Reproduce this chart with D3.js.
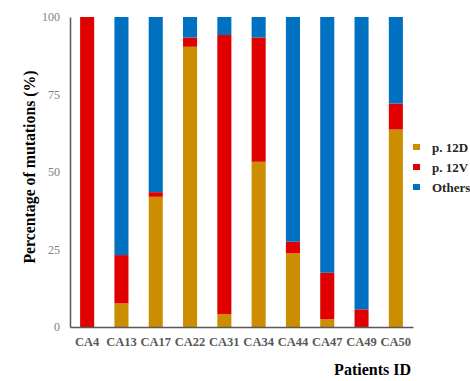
<!DOCTYPE html>
<html>
<head>
<meta charset="utf-8">
<script src="https://cdn.jsdelivr.net/npm/d3@7"></script>
<style>
	body { margin: 0; background: #fff; }
	svg { display: block; }
	text { font-family: "Liberation Serif", "Times New Roman", serif; }
</style>
</head>
<body>
<svg id="chart" width="470" height="381"></svg>
<script>
// stacked percentages per patient
var patients = ['CA4', 'CA13', 'CA17', 'CA22', 'CA31', 'CA34', 'CA44', 'CA47', 'CA49', 'CA50'];
var p12D = [0, 7.6, 42, 90.4, 4.2, 53.3, 23.8, 2.5, 0, 63.7];
var p12V = [100, 15.6, 1.5, 3, 90, 40.1, 3.7, 15, 5.7, 8.4];
var others = patients.map(function (d, i) { return 100 - p12D[i] - p12V[i]; });
var seriesNames = ['p. 12D', 'p. 12V', 'Others'];
var seriesColors = ['#cc8e00', '#e00000', '#0070c0'];
var yTicks = [0, 25, 50, 75, 100];

var svg = d3.select('#chart'),
	plotLeft = 70, plotRight = 413, plotTop = 17, plotBottom = 327;

var rows = patients.map(function (p, i) {
	return { id: p, 'p. 12D': p12D[i], 'p. 12V': p12V[i], 'Others': others[i] };
});
var stacked = d3.stack().keys(seriesNames)(rows);

var x = d3.scaleBand().domain(patients).range([plotLeft, plotRight]).paddingInner(0.59).paddingOuter(0.295);
var y = d3.scaleLinear().domain([0, 100]).range([plotBottom, plotTop]);
var color = d3.scaleOrdinal().domain(seriesNames).range(seriesColors);

svg.append('g')
	.selectAll('g')
	.data(stacked)
	.join('g')
	.attr('fill', function (d) { return color(d.key); })
	.selectAll('rect')
	.data(function (d) { return d; })
	.join('rect')
	.attr('x', function (d) { return x(d.data.id); })
	.attr('y', function (d) { return y(d[1]); })
	.attr('width', x.bandwidth())
	.attr('height', function (d) { return y(d[0]) - y(d[1]); });

// axes
var yAxis = svg.append('g')
	.attr('transform', 'translate(' + plotLeft + ',0)')
	.call(d3.axisLeft(y).tickValues(yTicks).tickSize(0).tickPadding(10));
yAxis.select('.domain').attr('stroke', '#595959').attr('stroke-width', 1.5);
yAxis.selectAll('text')
	.attr('fill', '#7f7f7f')
	.style('font-size', '12px')
	.style('font-family', '"Liberation Serif", serif');

var xAxis = svg.append('g')
	.attr('transform', 'translate(0,' + plotBottom + ')')
	.call(d3.axisBottom(x).tickSize(0).tickPadding(10));
xAxis.select('.domain').attr('stroke', '#595959').attr('stroke-width', 1.5);
xAxis.selectAll('text')
	.attr('fill', '#595959')
	.style('font-size', '12.5px')
	.style('font-weight', 'bold')
	.style('font-family', '"Liberation Serif", serif');

// titles
svg.append('text')
	.attr('transform', 'translate(35,167) rotate(-90)')
	.attr('text-anchor', 'middle')
	.style('font-size', '15.8px')
	.style('font-weight', 'bold')
	.text('Percentage of mutations (%)');

svg.append('text')
	.attr('x', 411)
	.attr('y', 375)
	.attr('text-anchor', 'end')
	.style('font-size', '16px')
	.style('font-weight', 'bold')
	.text('Patients ID');

// legend
var legend = svg.append('g')
	.selectAll('g')
	.data(seriesNames)
	.join('g')
	.attr('transform', function (d, i) { return 'translate(413,' + (147 + i * 20) + ')'; });
legend.append('rect')
	.attr('x', 0).attr('y', -3)
	.attr('width', 7).attr('height', 6)
	.attr('fill', function (d) { return color(d); });
legend.append('text')
	.attr('x', 19).attr('y', 4.5)
	.attr('fill', '#262626')
	.style('font-size', '13px')
	.style('font-weight', 'bold')
	.text(function (d) { return d; });
</script>
</body>
</html>
